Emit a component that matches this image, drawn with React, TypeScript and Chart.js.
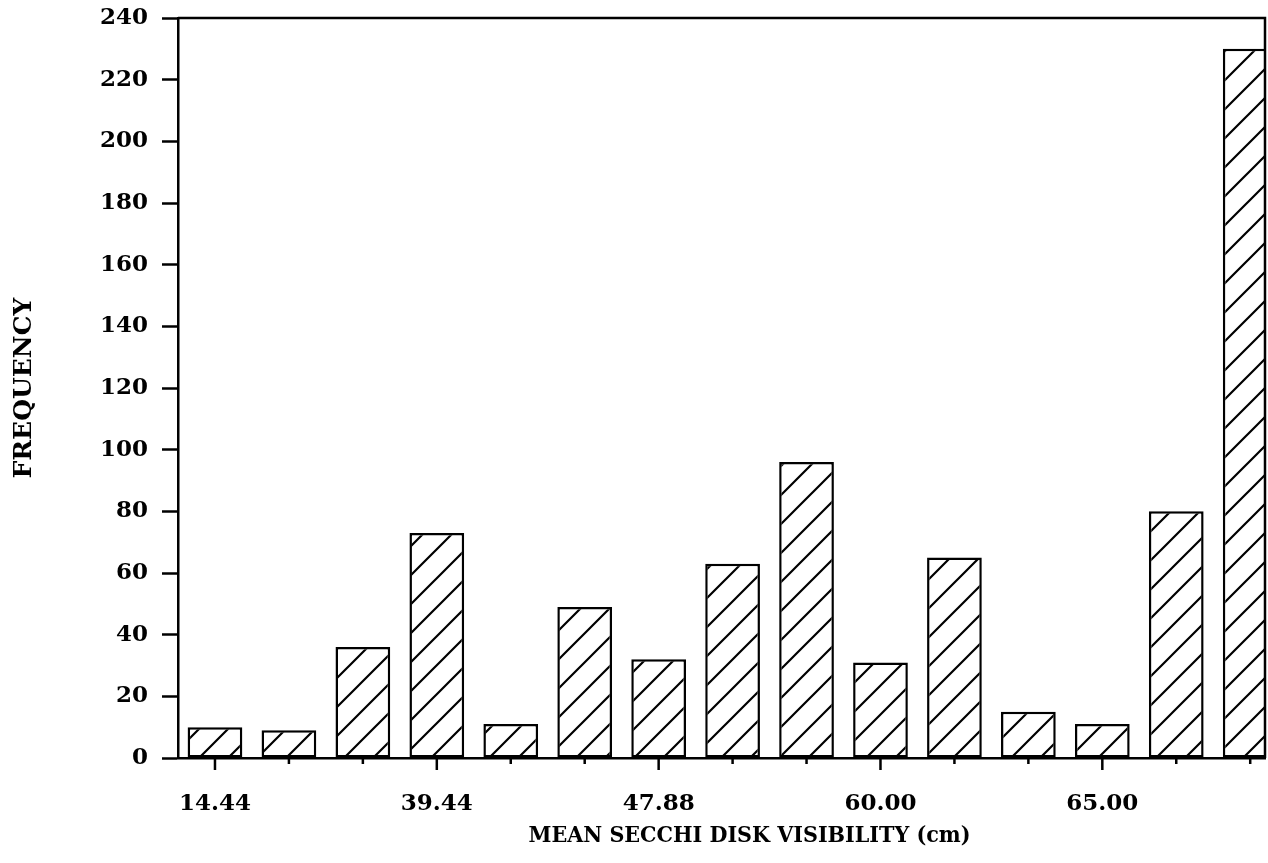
import React, { useEffect, useRef } from "react";
import { Chart, registerables } from "chart.js";

Chart.register(...registerables);

// ---- data ----
const frequencies = [10, 9, 36, 73, 11, 49, 32, 63, 96, 31, 65, 15, 11, 80, 230];
const majorTickLabels = ["14.44", "39.44", "47.88", "60.00", "65.00"];
const labelEvery = 3;
const yMin = 0;
const yMax = 240;
const yStep = 20;
const xTitle = "MEAN SECCHI DISK VISIBILITY (cm)";
const yTitle = "FREQUENCY";

// visible window of the bin axis (last bin is cut by the frame)
const xMin = -0.5;
const xMax = 14.2;

const FONT_FAMILY = "'DejaVu Serif', 'Liberation Serif', serif";
const TITLE_FAMILY = "'DejaVu Serif Condensed', 'DejaVu Serif', serif";
const X_TITLE_SHIFT = 28;
const X_TITLE_Y = 836;

function makeHatch(): CanvasPattern | string {
  const s = 29;
  const c = document.createElement("canvas");
  c.width = s;
  c.height = s;
  const g = c.getContext("2d");
  if (!g) return "#fff";
  g.fillStyle = "#fff";
  g.fillRect(0, 0, s, s);
  g.strokeStyle = "#000";
  g.lineWidth = 2.2;
  g.beginPath();
  g.moveTo(-3, s + 3);
  g.lineTo(s + 3, -3);
  g.moveTo(-3, 3);
  g.lineTo(3, -3);
  g.moveTo(s - 3, s + 3);
  g.lineTo(s + 3, s - 3);
  g.stroke();
  return g.createPattern(c, "repeat") || "#fff";
}

const framePlugin = {
  id: "frameAndTicks",
  afterDatasetsDraw(chart: any) {
    const { ctx, chartArea: a, scales } = chart;
    const xs = scales.x;
    ctx.save();
    ctx.strokeStyle = "#000";
    ctx.lineWidth = 2.5;
    ctx.beginPath();
    ctx.moveTo(a.left, a.top);
    ctx.lineTo(a.right, a.top);
    ctx.lineTo(a.right, a.bottom);
    ctx.stroke();
    frequencies.forEach((_, i) => {
      const px = xs.getPixelForValue(i);
      if (px > a.right) return;
      const len = i % labelEvery === 0 ? 12 : 6;
      ctx.beginPath();
      ctx.moveTo(px, a.bottom);
      ctx.lineTo(px, a.bottom + len);
      ctx.stroke();
    });
    // x axis title
    ctx.fillStyle = "#000";
    ctx.font = `bold 23px ${TITLE_FAMILY}`;
    ctx.textAlign = "center";
    ctx.textBaseline = "middle";
    ctx.fillText(xTitle, (a.left + a.right) / 2 + X_TITLE_SHIFT, X_TITLE_Y);
    ctx.restore();
  },
};

export default function App() {
  const ref = useRef<HTMLCanvasElement | null>(null);

  useEffect(() => {
    document.body.style.margin = "0";
    document.body.style.background = "#fff";
    const canvas = ref.current;
    if (!canvas) return;
    const hatch = makeHatch();
    const tickFont = { family: FONT_FAMILY, size: 23, weight: "bold" as const };
    const yTitleFont = { family: FONT_FAMILY, size: 25, weight: "bold" as const };

    const chart = new Chart(canvas, {
      type: "bar",
      data: {
        datasets: [
          {
            data: frequencies.map((v, i) => ({ x: i, y: v })),
            backgroundColor: hatch as any,
            borderColor: "#000",
            borderWidth: 2.5,
            borderSkipped: false,
            categoryPercentage: 1,
            barPercentage: 0.74,
          },
        ],
      },
      options: {
        responsive: false,
        animation: false,
        events: [],
        layout: { padding: { top: 18, right: 3, left: 0, bottom: 0 } },
        plugins: {
          legend: { display: false },
          tooltip: { enabled: false },
          title: { display: false },
        },
        scales: {
          x: {
            type: "linear",
            min: xMin,
            max: xMax,
            offset: false,
            grid: { display: false },
            border: { display: true, color: "#000", width: 2.5 },
            afterBuildTicks: (s: any) => {
              s.ticks = frequencies.map((_, i) => ({ value: i }));
            },
            afterFit: (s: any) => {
              s.height = 105;
              s.paddingLeft = 0;
              s.paddingRight = 0;
            },
            ticks: {
              autoSkip: false,
              maxRotation: 0,
              padding: 24,
              color: "#000",
              font: tickFont,
              callback: (v: any) => {
                const i = Number(v);
                return i % labelEvery === 0 ? majorTickLabels[i / labelEvery] ?? "" : "";
              },
            },
            title: { display: false },
          },
          y: {
            min: yMin,
            max: yMax,
            grid: {
              drawOnChartArea: false,
              drawTicks: true,
              tickLength: 16,
              tickWidth: 2.5,
              tickColor: "#000",
            },
            border: { display: true, color: "#000", width: 2.5 },
            afterFit: (s: any) => {
              s.width = 178;
              s.paddingTop = 0;
              s.paddingBottom = 0;
            },
            ticks: {
              stepSize: yStep,
              padding: 14,
              color: "#000",
              font: tickFont,
            },
            title: {
              display: true,
              text: yTitle,
              color: "#000",
              font: yTitleFont,
              padding: { top: 9, bottom: 0 },
            },
          },
        },
      },
      plugins: [framePlugin],
    });
    return () => chart.destroy();
  }, []);

  return (
    <div style={{ width: 1268, height: 863, background: "#fff" }}>
      <canvas ref={ref} width={1268} height={863} style={{ display: "block" }} />
    </div>
  );
}
